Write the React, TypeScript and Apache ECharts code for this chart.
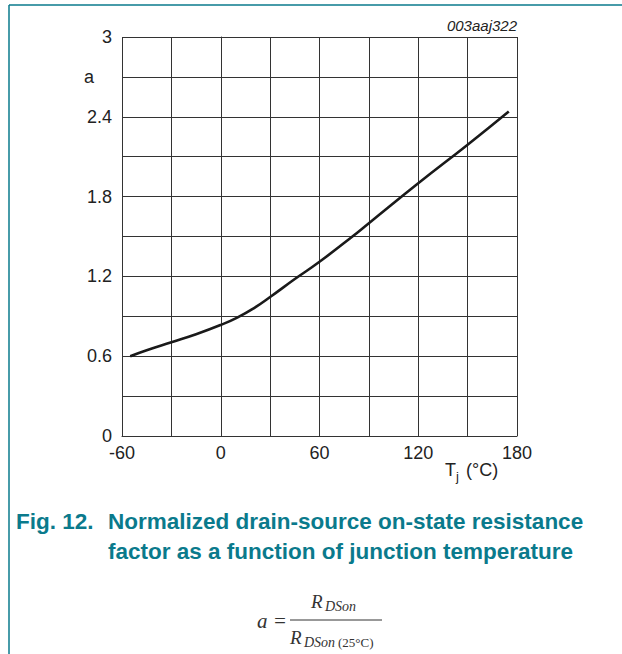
import React, { useEffect, useRef } from "react";
import * as echarts from "echarts";

const temps = [-55, -45, -30, -15, 0, 10, 20, 30, 45, 60, 80, 90, 120, 150, 175];
const factor = [0.6, 0.645, 0.705, 0.765, 0.835, 0.89, 0.96, 1.045, 1.18, 1.31, 1.5, 1.6, 1.9, 2.19, 2.44];
const xLabelStep = 60;
const yLabelStep = 0.6;

const TEAL = "#0a7a8c";
const SANS = "'Liberation Sans', Arial, sans-serif";
const SERIF = "'Liberation Serif', 'Times New Roman', serif";

export default function App() {
  const ref = useRef<HTMLDivElement>(null);
  useEffect(() => {
    if (!ref.current) return;
    const chart = echarts.init(ref.current, undefined, { renderer: "svg" });
    const lineStyle = { color: "#333", width: 1 };
    chart.setOption({
      animation: false,
      backgroundColor: "#fff",
      grid: { left: 122, right: 105, top: 37, bottom: 218, containLabel: false },
      xAxis: {
        type: "value",
        min: -60,
        max: 180,
        interval: 30,
        axisLine: { show: true, lineStyle },
        axisTick: { show: false },
        splitLine: { show: true, lineStyle },
        axisLabel: {
          margin: 8,
          fontFamily: SANS,
          fontSize: 18,
          color: "#222",
          formatter: (v: number) => (Math.abs(v % xLabelStep) < 1e-6 ? String(v) : ""),
        },
      },
      yAxis: {
        type: "value",
        min: 0,
        max: 3,
        interval: 0.3,
        axisLine: { show: true, lineStyle },
        axisTick: { show: false },
        splitLine: { show: true, lineStyle },
        axisLabel: {
          margin: 10,
          fontFamily: SANS,
          fontSize: 18,
          color: "#222",
          formatter: (v: number) => {
            const r = v / yLabelStep;
            return Math.abs(r - Math.round(r)) < 1e-6 ? String(Math.round(v * 10) / 10) : "";
          },
        },
      },
      series: [
        {
          type: "line",
          data: temps.map((t, i) => [t, factor[i]]),
          smooth: 0.5,
          showSymbol: false,
          lineStyle: { color: "#1a1a1a", width: 2.6 },
        },
      ],
      graphic: [
        { type: "line", shape: { x1: 9, y1: 5, x2: 622, y2: 5 }, style: { stroke: TEAL, lineWidth: 1.5 } },
        { type: "line", shape: { x1: 9, y1: 5, x2: 9, y2: 654 }, style: { stroke: TEAL, lineWidth: 1.5 } },
        { type: "text", x: 517, y: 25, style: { text: "003aaj322", font: `italic 15px ${SANS}`, fill: "#222", align: "right", verticalAlign: "middle" } },
        { type: "text", x: 84, y: 77, style: { text: "a", font: `18px ${SANS}`, fill: "#222", align: "left", verticalAlign: "middle" } },
        { type: "text", x: 445, y: 470, style: { text: "T", font: `18px ${SANS}`, fill: "#222", align: "left", verticalAlign: "middle" } },
        { type: "text", x: 456, y: 476, style: { text: "j", font: `13px ${SANS}`, fill: "#222", align: "left", verticalAlign: "middle" } },
        { type: "text", x: 466, y: 470, style: { text: "(°C)", font: `18px ${SANS}`, fill: "#222", align: "left", verticalAlign: "middle" } },
        { type: "text", x: 16, y: 521, style: { text: "Fig. 12.", font: `bold 22.5px ${SANS}`, fill: TEAL, align: "left", verticalAlign: "middle" } },
        { type: "text", x: 108, y: 521, style: { text: "Normalized drain-source on-state resistance", font: `bold 22.5px ${SANS}`, fill: TEAL, align: "left", verticalAlign: "middle" } },
        { type: "text", x: 108, y: 551, style: { text: "factor as a function of junction temperature", font: `bold 22.5px ${SANS}`, fill: TEAL, align: "left", verticalAlign: "middle" } },
        { type: "text", x: 257, y: 621, style: { text: "a =", font: `italic 21px ${SERIF}`, fill: "#333", align: "left", verticalAlign: "middle" } },
        { type: "line", shape: { x1: 290, y1: 620, x2: 382, y2: 620 }, style: { stroke: "#333", lineWidth: 1 } },
        { type: "text", x: 311, y: 601, style: { text: "R", font: `italic 19px ${SERIF}`, fill: "#333", align: "left", verticalAlign: "middle" } },
        { type: "text", x: 325, y: 606, style: { text: "DSon", font: `italic 14px ${SERIF}`, fill: "#333", align: "left", verticalAlign: "middle" } },
        { type: "text", x: 290, y: 637, style: { text: "R", font: `italic 19px ${SERIF}`, fill: "#333", align: "left", verticalAlign: "middle" } },
        { type: "text", x: 304, y: 642, style: { text: "DSon", font: `italic 14px ${SERIF}`, fill: "#333", align: "left", verticalAlign: "middle" } },
        { type: "text", x: 338, y: 642, style: { text: "(25°C)", font: `13px ${SERIF}`, fill: "#333", align: "left", verticalAlign: "middle" } },
      ],
    });
    return () => chart.dispose();
  }, []);
  return <div ref={ref} style={{ position: "absolute", left: 0, top: 0, width: 622, height: 654 }} />;
}
